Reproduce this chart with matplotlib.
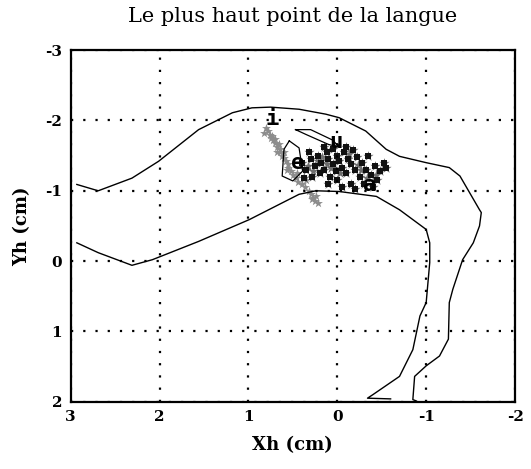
import numpy as np
import matplotlib.pyplot as plt

plt.rcParams['axes.unicode_minus'] = False

# palate / pharynx wall (upper outline)
palate_x = [2.93, 2.69, 2.31, 2.01, 1.56, 1.18, 0.96, 0.75, 0.43, 0.13, -0.02, -0.32,
            -0.55, -0.70, -1.00, -1.26, -1.38, -1.60, -1.62, -1.60, -1.53, -1.41,
            -1.30, -1.26, -1.25, -1.15, -1.00, -0.87, -0.85, -0.89]
palate_y = [-1.09, -1.00, -1.18, -1.42, -1.87, -2.11, -2.18, -2.19, -2.16, -2.09, -2.04, -1.85,
            -1.59, -1.49, -1.40, -1.33, -1.21, -0.73, -0.69, -0.50, -0.26, -0.02,
            0.40, 0.59, 1.11, 1.35, 1.49, 1.64, 1.97, 1.99]

# tongue contour (lower outline)
tongue_x = [2.93, 2.69, 2.31, 2.08, 1.56, 0.99, 0.43, 0.24, -0.02, -0.44, -0.70, -1.00,
            -1.04, -1.04, -1.00, -0.93, -0.89, -0.85, -0.70, -0.40, -0.34, -0.60]
tongue_y = [-0.26, -0.12, 0.06, -0.02, -0.28, -0.59, -0.95, -1.00, -0.99, -0.92, -0.73, -0.45,
            -0.26, 0.02, 0.59, 0.78, 1.02, 1.26, 1.64, 1.90, 1.95, 1.96]

# highest point of tongue, light streak
streak_x = [0.80, 0.78, 0.76, 0.74, 0.72, 0.70, 0.68, 0.66, 0.64, 0.62, 0.60, 0.58, 0.56,
            0.55, 0.52, 0.50, 0.47, 0.44, 0.40, 0.36, 0.32, 0.30, 0.27, 0.25, 0.22, 0.28,
            0.75, 0.70, 0.65, 0.60, 0.82, 0.68, 0.57, 0.45, 0.35, 0.24]
streak_y = [-1.90, -1.85, -1.80, -1.78, -1.72, -1.68, -1.62, -1.66, -1.55, -1.50, -1.47,
            -1.42, -1.38, -1.32, -1.28, -1.22, -1.18, -1.12, -1.10, -1.05, -1.00, -0.95,
            -0.90, -0.85, -0.82, -0.88, -1.75, -1.74, -1.60, -1.55, -1.82, -1.55, -1.30,
            -1.25, -1.15, -0.92]

# highest point of tongue, dense cloud
cloud_x = [0.40, 0.35, 0.30, 0.28, 0.25, 0.22, 0.20, 0.18, 0.15, 0.12, 0.10, 0.08, 0.05,
           0.02, 0.00, -0.02, -0.05, -0.08, -0.10, -0.12, -0.15, -0.18, -0.20, -0.22,
           -0.25, -0.28, -0.30, -0.32, -0.35, -0.38, -0.40, -0.42, -0.45, -0.48, -0.52,
           -0.55, 0.15, 0.05, -0.10, 0.10, -0.15, 0.00, 0.32, 0.38, -0.20, -0.05,
           0.33, 0.27, 0.17, 0.07, -0.03, -0.13, -0.23, -0.33, 0.22, 0.12, -0.27, -0.44]
cloud_y = [-1.40, -1.30, -1.45, -1.20, -1.35, -1.50, -1.25, -1.40, -1.30, -1.55, -1.45,
           -1.20, -1.38, -1.28, -1.50, -1.42, -1.33, -1.55, -1.25, -1.45, -1.38, -1.58,
           -1.30, -1.48, -1.20, -1.40, -1.10, -1.30, -1.50, -1.22, -1.05, -1.35, -1.15,
           -1.28, -1.40, -1.32, -1.62, -1.60, -1.62, -1.10, -1.10, -1.15, -1.55, -1.18,
           -1.02, -1.05, -1.35, -1.28, -1.48, -1.33, -1.25, -1.52, -1.36, -1.18, -1.42,
           -1.38, -1.30, -1.23]

# outlines around vowel clusters
poly1_x = [0.47, 0.30, 0.05, -0.02, 0.10, 0.35, 0.47]
poly1_y = [-1.87, -1.87, -1.72, -1.62, -1.66, -1.80, -1.87]
poly2_x = [0.54, 0.43, 0.39, 0.50, 0.62, 0.60, 0.54]
poly2_y = [-1.71, -1.61, -1.28, -1.14, -1.21, -1.59, -1.71]

vowels = ['i', 'u', 'e', 'a']
vowel_x = [0.73, 0.01, 0.45, -0.36]
vowel_y = [-2.02, -1.70, -1.40, -1.08]

fig = plt.figure(figsize=(5.31, 4.69), dpi=100)
ax = fig.add_axes([0.133, 0.1435, 0.837, 0.7495])

ax.plot(palate_x, palate_y, color='black', lw=1.0)
ax.plot(tongue_x, tongue_y, color='black', lw=1.0)
ax.plot(poly1_x, poly1_y, color='black', lw=0.9)
ax.plot(poly2_x, poly2_y, color='black', lw=0.9)
ax.scatter(streak_x, streak_y, s=45, marker='*', color='#8c8c8c', lw=0)
ax.scatter(cloud_x, cloud_y, s=60, marker='*', color='#6e6e6e', lw=0)
ax.scatter(cloud_x[:46], cloud_y[:46], s=14, marker='s', color='#111111', lw=0)
for v, x, y in zip(vowels, vowel_x, vowel_y):
    ax.text(x, y, v, ha='center', va='center', fontsize=16, fontweight='bold',
            family='DejaVu Sans Mono', color='black')

ax.set_xlim(3, -2)
ax.set_ylim(2, -3)
ax.set_xticks([3, 2, 1, 0, -1, -2])
ax.set_yticks([-3, -2, -1, 0, 1, 2])
ax.grid(True, color='black', linestyle=(0, (1, 4.5)), linewidth=1.6)
ax.tick_params(length=0, pad=6)
for lab in ax.get_xticklabels() + ax.get_yticklabels():
    lab.set_family('DejaVu Serif')
    lab.set_fontweight('bold')
    lab.set_fontsize(11)
for sp in ax.spines.values():
    sp.set_linewidth(1.6)

ax.set_title('Le plus haut point de la langue', family='DejaVu Serif', fontsize=15, pad=20)
ax.set_xlabel('Xh (cm)', family='DejaVu Serif', fontsize=13, fontweight='bold', labelpad=9)
ax.set_ylabel('Yh (cm)', family='DejaVu Serif', fontsize=13, fontweight='bold', labelpad=10)

fig.savefig('out.png', dpi=100)
